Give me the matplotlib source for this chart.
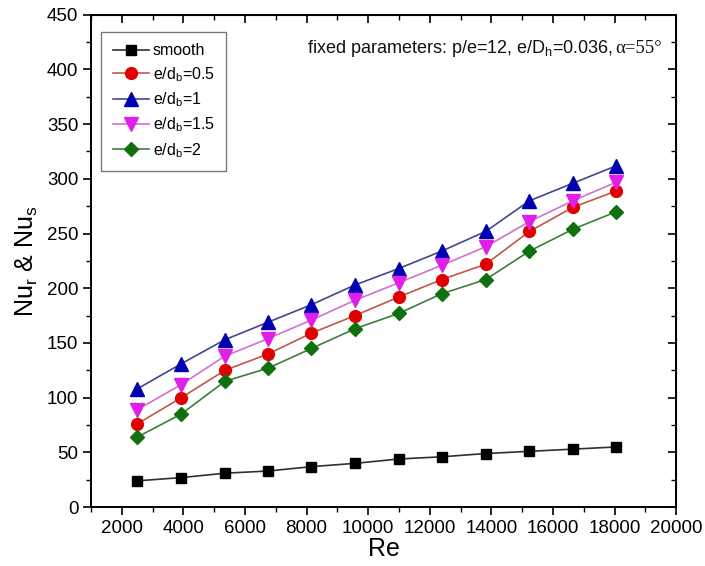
"""Nusselt number of ribbed vs smooth channel against Reynolds number."""

import matplotlib.pyplot as plt
from matplotlib.offsetbox import TextArea, HPacker, AnchoredOffsetbox
from matplotlib.ticker import MultipleLocator

plt.rcParams['font.family'] = ['Liberation Sans', 'DejaVu Sans']
plt.rcParams['mathtext.default'] = 'regular'

re = [2500, 3930, 5350, 6750, 8160, 9570, 10990, 12390, 13820, 15240, 16650, 18060]

nu_smooth = [24, 27, 31, 33, 37, 40, 44, 46, 49, 51, 53, 55]
nu_db05 = [76, 100, 125, 140, 159, 175, 192, 208, 222, 252, 274, 289]
nu_db1 = [108, 131, 153, 169, 185, 203, 218, 234, 252, 280, 296, 312]
nu_db15 = [89, 112, 138, 154, 171, 189, 205, 221, 238, 261, 280, 297]
nu_db2 = [64, 85, 115, 127, 145, 163, 177, 195, 208, 234, 254, 270]

labels = ['smooth', 'e/d$_b$=0.5', 'e/d$_b$=1', 'e/d$_b$=1.5', 'e/d$_b$=2']

# (line colour, marker colour, marker, size)
styles = [
    ('#303030', '#000000', 's', 7.5),
    ('#c05848', '#e00000', 'o', 8.5),
    ('#404888', '#0000b0', '^', 9.5),
    ('#d070d0', '#e020e8', 'v', 9.5),
    ('#3a803a', '#107010', 'D', 7.5),
]

fig = plt.figure(figsize=(7.05, 5.66), dpi=100)
ax = fig.add_axes([0.129, 0.104, 0.830, 0.870])

series = [nu_smooth, nu_db05, nu_db1, nu_db15, nu_db2]
for ys, lab, (lc, mc, mk, ms) in zip(series, labels, styles):
    ax.plot(re, ys, color=lc, lw=1.2, marker=mk, ms=ms,
            markerfacecolor=mc, markeredgecolor=mc, label=lab)

ax.set_xlim(1000, 20000)
ax.set_ylim(0, 450)
ax.xaxis.set_major_locator(MultipleLocator(2000))
ax.xaxis.set_minor_locator(MultipleLocator(1000))
ax.yaxis.set_major_locator(MultipleLocator(50))
ax.yaxis.set_minor_locator(MultipleLocator(25))
ax.tick_params(which='major', direction='out', length=6, width=1.2,
               labelsize=13.5, pad=3)
ax.tick_params(which='minor', direction='out', length=3.5, width=1.0)
for s in ax.spines.values():
    s.set_linewidth(1.4)

# mirrored ticks pointing inward on top and right
top = ax.secondary_xaxis('top')
top.xaxis.set_major_locator(MultipleLocator(2000))
top.xaxis.set_minor_locator(MultipleLocator(1000))
top.tick_params(which='major', direction='in', length=6, width=1.2, labeltop=False)
top.tick_params(which='minor', direction='in', length=3.5, width=1.0)
right = ax.secondary_yaxis('right')
right.yaxis.set_major_locator(MultipleLocator(50))
right.yaxis.set_minor_locator(MultipleLocator(25))
right.tick_params(which='major', direction='in', length=6, width=1.2, labelright=False)
right.tick_params(which='minor', direction='in', length=3.5, width=1.0)

ax.set_xlabel('Re', fontsize=18, labelpad=0)
ax.set_ylabel('Nu$_r$ & Nu$_s$', fontsize=18, labelpad=5)

leg = ax.legend(loc='upper left', bbox_to_anchor=(0.018, 0.965), fontsize=11.5,
                frameon=True, fancybox=False, edgecolor='#555555',
                handlelength=2.3, handletextpad=0.2, labelspacing=0.42,
                borderpad=0.7, borderaxespad=0)
leg.get_frame().set_linewidth(1.0)

part1 = TextArea('fixed parameters: p/e=12, e/D$_h$=0.036, ',
                 textprops=dict(fontsize=13, color='#111111'))
part2 = TextArea('\u03b1=55\u00b0',
                 textprops=dict(fontsize=13.5, color='#111111',
                                family=['Liberation Serif', 'DejaVu Serif']))
box = HPacker(children=[part1, part2], align='baseline', pad=0, sep=0)
anchored = AnchoredOffsetbox(loc='upper right', child=box, frameon=False,
                             bbox_to_anchor=(0.985, 0.965),
                             bbox_transform=ax.transAxes, borderpad=0)
ax.add_artist(anchored)

fig.savefig('out.png', dpi=100)
